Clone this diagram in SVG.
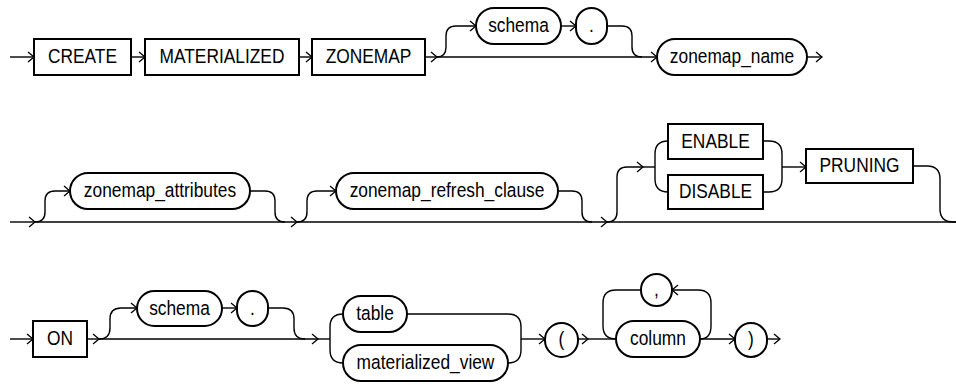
<svg xmlns="http://www.w3.org/2000/svg" width="956" height="385" viewBox="0 0 956 385">
<defs>
<marker id="ar" viewBox="-8 -6 10 12" markerWidth="10" markerHeight="12" refX="0" refY="0" orient="auto" markerUnits="userSpaceOnUse">
<path d="M-6,-5 L0,0 L-6,5" fill="none" stroke="#000" stroke-width="1.3"/>
</marker>
<style>
.k{fill:#fff;stroke:#000;stroke-width:2}
.t{font-family:"Liberation Sans",Arial,sans-serif;font-size:19.5px;text-anchor:middle;fill:#000}
.c path{fill:none;stroke:#000;stroke-width:1.4}
.c path.a{marker-end:url(#ar)}
</style>
</defs>
<rect width="956" height="385" fill="#fff"/>
<g class="c" id="connectors">
<path class="a" d="M10,57 H34"/>
<path class="a" d="M131,57 H145"/>
<path class="a" d="M299,57 H312"/>
<path class="a" d="M425,57 H437"/>
<path class="a" d="M437,57 H657"/>
<path class="a" d="M437,57 Q446,57 446,47 V36 Q446,26 456,26 H476"/>
<path class="a" d="M561,26 H576"/>
<path d="M607,26 H622 Q632,26 632,36 V47 Q632,57 642,57"/>
<path class="a" d="M807,57 H822"/>
<path class="a" d="M10,222 H35"/>
<path class="a" d="M35,222 H297"/>
<path class="a" d="M297,222 H607"/>
<path d="M607,222 H956"/>
<path class="a" d="M35,222 Q45,222 45,212 V201 Q45,191 55,191 H70"/>
<path d="M250,191 H265 Q275,191 275,201 V212 Q275,222 285,222"/>
<path class="a" d="M297,222 Q307,222 307,212 V201 Q307,191 317,191 H336"/>
<path d="M558,191 H572 Q582,191 582,201 V212 Q582,222 592,222"/>
<path class="a" d="M607,222 Q617,222 617,212 V177 Q617,167 627,167 H643"/>
<path d="M643,167 H655"/>
<path d="M668,141 Q655,141 655,154 V179 Q655,192 668,192"/>
<path d="M763,141 H769 Q782,141 782,154 V179 Q782,192 769,192 H763"/>
<path class="a" d="M782,167 H806"/>
<path d="M913,166 H927 Q940,166 940,179 V209 Q940,222 953,222 H956"/>
<path class="a" d="M10,339 H33"/>
<path class="a" d="M87,339 H99"/>
<path class="a" d="M99,339 H318"/>
<path d="M318,339 H330"/>
<path class="a" d="M99,339 Q110,339 110,328 V319 Q110,308 121,308 H137"/>
<path class="a" d="M222,308 H237"/>
<path d="M268,308 H283 Q294,308 294,319 V328 Q294,339 305,339"/>
<path d="M343,314 Q330,314 330,327 V350 Q330,363 343,363"/>
<path d="M407,314 H508 Q521,314 521,327 V350 Q521,363 508,363"/>
<path class="a" d="M521,339 H545"/>
<path class="a" d="M578,339 H588"/>
<path d="M588,339 H616"/>
<path d="M616,339 Q603,339 603,326 V303 Q603,290 616,290 H641"/>
<path class="a" d="M700,339 Q711,339 711,326 V303 Q711,290 698,290 H672"/>
<path class="a" d="M700,339 H735"/>
<path class="a" d="M767,339 H780"/>
</g>
<g id="n-create"><rect class="k" x="34" y="39" width="97" height="36"/><text class="t" transform="translate(82.5 62.5) scale(0.89 1)">CREATE</text></g>
<g id="n-materialized"><rect class="k" x="145" y="39" width="154" height="36"/><text class="t" transform="translate(222 62.5) scale(0.89 1)">MATERIALIZED</text></g>
<g id="n-zonemap"><rect class="k" x="312" y="39" width="113" height="36"/><text class="t" transform="translate(368.5 62.5) scale(0.89 1)">ZONEMAP</text></g>
<g id="n-schema1"><rect class="k" x="476" y="8" width="85" height="36" rx="18"/><text class="t" transform="translate(518.5 32) scale(0.89 1)">schema</text></g>
<g id="n-dot1"><rect class="k" x="576" y="8" width="31" height="36" rx="15.5"/><text class="t" transform="translate(591.5 32) scale(0.89 1)">.</text></g>
<g id="n-zonemap-name"><rect class="k" x="657" y="39" width="150" height="36" rx="18"/><text class="t" transform="translate(732 62.5) scale(0.89 1)">zonemap_name</text></g>
<g id="n-attrs"><rect class="k" x="70" y="173" width="180" height="36" rx="18"/><text class="t" transform="translate(160 197) scale(0.89 1)">zonemap_attributes</text></g>
<g id="n-refresh"><rect class="k" x="336" y="173" width="222" height="36" rx="18"/><text class="t" transform="translate(447 197) scale(0.89 1)">zonemap_refresh_clause</text></g>
<g id="n-enable"><rect class="k" x="668" y="124" width="95" height="35"/><text class="t" transform="translate(715.5 147.5) scale(0.89 1)">ENABLE</text></g>
<g id="n-disable"><rect class="k" x="668" y="175" width="95" height="34"/><text class="t" transform="translate(715.5 198) scale(0.89 1)">DISABLE</text></g>
<g id="n-pruning"><rect class="k" x="806" y="149" width="107" height="34"/><text class="t" transform="translate(859.5 172) scale(0.89 1)">PRUNING</text></g>
<g id="n-on"><rect class="k" x="33" y="321" width="54" height="36"/><text class="t" transform="translate(60 345) scale(0.89 1)">ON</text></g>
<g id="n-schema2"><rect class="k" x="137" y="291" width="85" height="35" rx="17.5"/><text class="t" transform="translate(179.5 314.5) scale(0.89 1)">schema</text></g>
<g id="n-dot2"><rect class="k" x="237" y="291" width="31" height="35" rx="15.5"/><text class="t" transform="translate(252.5 314.5) scale(0.89 1)">.</text></g>
<g id="n-table"><rect class="k" x="343" y="296" width="64" height="36" rx="18"/><text class="t" transform="translate(375 320) scale(0.89 1)">table</text></g>
<g id="n-mview"><rect class="k" x="343" y="345" width="165" height="36" rx="18"/><text class="t" transform="translate(425.5 369) scale(0.89 1)">materialized_view</text></g>
<g id="n-lparen"><rect class="k" x="545" y="323" width="33" height="34" rx="16.5"/><text class="t" transform="translate(561.5 346) scale(0.89 1)">(</text></g>
<g id="n-comma"><rect class="k" x="641" y="274" width="31" height="32" rx="15.5"/><text class="t" transform="translate(656.5 296) scale(0.89 1)">,</text></g>
<g id="n-column"><rect class="k" x="616" y="321" width="84" height="36" rx="18"/><text class="t" transform="translate(658 345) scale(0.89 1)">column</text></g>
<g id="n-rparen"><rect class="k" x="735" y="323" width="32" height="34" rx="16"/><text class="t" transform="translate(751 346) scale(0.89 1)">)</text></g>
</svg>
